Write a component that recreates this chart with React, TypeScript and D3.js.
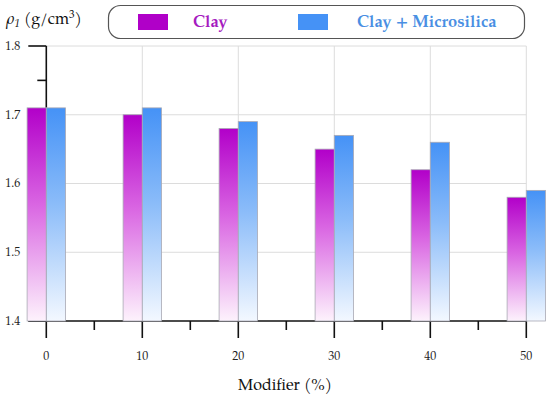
import React, { useEffect, useRef } from 'react';
import * as d3 from 'd3';

const modifiers = [0, 10, 20, 30, 40, 50];
const clayValues = [1.71, 1.70, 1.68, 1.65, 1.62, 1.58];
const microsilicaValues = [1.71, 1.71, 1.69, 1.67, 1.66, 1.59];
const yTicks = [1.4, 1.5, 1.6, 1.7, 1.8];
const seriesNames = ['Clay', 'Clay + Microsilica'];

const FONT = 'TeX Gyre Pagella, Liberation Serif, serif';

const App: React.FC = () => {
    const svgRef = useRef<SVGSVGElement>(null);

    useEffect(() => {
        if (!svgRef.current) return;
        const svg = d3.select(svgRef.current);
        svg.selectAll('*').remove();

        const x = d3.scaleLinear().domain([0, 50]).range([46.3, 526.3]);
        const y = d3.scaleLinear().domain([1.4, 1.8]).range([321, 46]);
        const barW = x(2) - x(0);

        const defs = svg.append('defs');
        const purple = defs.append('linearGradient')
            .attr('id', 'gradClay')
            .attr('x1', 0).attr('y1', 0).attr('x2', 0).attr('y2', 1);
        purple.append('stop').attr('offset', '0%').attr('stop-color', '#b200c9');
        purple.append('stop').attr('offset', '45%').attr('stop-color', '#d965e2');
        purple.append('stop').attr('offset', '100%').attr('stop-color', '#fdf2fc');
        const blue = defs.append('linearGradient')
            .attr('id', 'gradMicro')
            .attr('x1', 0).attr('y1', 0).attr('x2', 0).attr('y2', 1);
        blue.append('stop').attr('offset', '0%').attr('stop-color', '#4592f6');
        blue.append('stop').attr('offset', '45%').attr('stop-color', '#8bbcf9');
        blue.append('stop').attr('offset', '100%').attr('stop-color', '#f3f8ff');

        // grid
        svg.append('g')
            .selectAll('line')
            .data(yTicks.filter((t) => t > 1.4))
            .enter()
            .append('line')
            .attr('x1', x(0)).attr('x2', x(50))
            .attr('y1', (d: number) => y(d)).attr('y2', (d: number) => y(d))
            .style('stroke', '#dcdcdc').style('stroke-width', 1);
        svg.append('g')
            .selectAll('line')
            .data(modifiers.filter((m) => m > 0))
            .enter()
            .append('line')
            .attr('x1', (d: number) => x(d)).attr('x2', (d: number) => x(d))
            .attr('y1', y(1.8)).attr('y2', y(1.4))
            .style('stroke', '#dcdcdc').style('stroke-width', 1);

        // y axis
        const yAxis = svg.append('g').attr('transform', `translate(${x(0)},0)`);
        yAxis.append('line')
            .attr('x1', 0).attr('x2', 0).attr('y1', y(1.8)).attr('y2', y(1.4))
            .style('stroke', '#111').style('stroke-width', 1.6);
        yAxis.selectAll('.major')
            .data(yTicks)
            .enter()
            .append('line')
            .attr('x1', -18).attr('x2', 0)
            .attr('y1', (d: number) => y(d)).attr('y2', (d: number) => y(d))
            .style('stroke', '#111').style('stroke-width', 1.6);
        yAxis.selectAll('.minor')
            .data([1.45, 1.55, 1.65, 1.75])
            .enter()
            .append('line')
            .attr('x1', -9).attr('x2', 0)
            .attr('y1', (d: number) => y(d)).attr('y2', (d: number) => y(d))
            .style('stroke', '#111').style('stroke-width', 1.6);
        yAxis.selectAll('text')
            .data(yTicks)
            .enter()
            .append('text')
            .attr('x', -26)
            .attr('y', (d: number) => y(d))
            .attr('dy', '0.32em')
            .attr('text-anchor', 'end')
            .attr('font-family', FONT)
            .attr('font-size', 12)
            .attr('fill', '#222')
            .text((d: number) => d.toFixed(1));

        // x axis
        const xAxis = svg.append('g').attr('transform', `translate(0,${y(1.4)})`);
        xAxis.append('line')
            .attr('x1', x(0) - 18).attr('x2', x(50))
            .attr('y1', 0).attr('y2', 0)
            .style('stroke', '#111').style('stroke-width', 1.6);
        xAxis.selectAll('.major')
            .data(modifiers)
            .enter()
            .append('line')
            .attr('x1', (d: number) => x(d)).attr('x2', (d: number) => x(d))
            .attr('y1', 0).attr('y2', 17)
            .style('stroke', '#111').style('stroke-width', 1.6);
        xAxis.selectAll('.minor')
            .data([5, 15, 25, 35, 45])
            .enter()
            .append('line')
            .attr('x1', (d: number) => x(d)).attr('x2', (d: number) => x(d))
            .attr('y1', 0).attr('y2', 9)
            .style('stroke', '#111').style('stroke-width', 1.6);
        xAxis.selectAll('text')
            .data(modifiers)
            .enter()
            .append('text')
            .attr('x', (d: number) => x(d))
            .attr('y', 35)
            .attr('dy', '0.32em')
            .attr('text-anchor', 'middle')
            .attr('font-family', FONT)
            .attr('font-size', 12)
            .attr('fill', '#222')
            .text((d: number) => String(d));

        // bars
        const bars = svg.append('g');
        bars.selectAll('.clay')
            .data(modifiers)
            .enter()
            .append('rect')
            .attr('x', (d: number) => x(d) - barW)
            .attr('y', (_d: number, i: number) => y(clayValues[i]))
            .attr('width', barW)
            .attr('height', (_d: number, i: number) => y(1.4) - y(clayValues[i]))
            .attr('fill', 'url(#gradClay)')
            .style('stroke', '#a9a9b4')
            .style('stroke-width', 0.8);
        bars.selectAll('.micro')
            .data(modifiers)
            .enter()
            .append('rect')
            .attr('x', (d: number) => x(d))
            .attr('y', (_d: number, i: number) => y(microsilicaValues[i]))
            .attr('width', barW)
            .attr('height', (_d: number, i: number) => y(1.4) - y(microsilicaValues[i]))
            .attr('fill', 'url(#gradMicro)')
            .style('stroke', '#a9a9b4')
            .style('stroke-width', 0.8);

        // axis titles
        svg.append('text')
            .attr('x', 285)
            .attr('y', 390)
            .attr('text-anchor', 'middle')
            .attr('font-family', FONT)
            .attr('font-size', 16)
            .attr('fill', '#111')
            .text('Modifier (%)');

        const yTitle = svg.append('text')
            .attr('x', 6)
            .attr('y', 24)
            .attr('font-family', FONT)
            .attr('font-size', 16)
            .attr('fill', '#111');
        yTitle.append('tspan').attr('font-style', 'italic').text('ρ');
        yTitle.append('tspan').attr('font-style', 'italic').attr('font-size', 11).attr('dy', 3).text('1');
        yTitle.append('tspan').attr('dy', -3).text(' (g/cm');
        yTitle.append('tspan').attr('font-size', 11).attr('dy', -6).text('3');
        yTitle.append('tspan').attr('dy', 6).text(')');

        // legend
        const legend = svg.append('g');
        legend.append('rect')
            .attr('x', 108.5).attr('y', 5.5)
            .attr('width', 416).attr('height', 33)
            .attr('rx', 12).attr('ry', 12)
            .style('fill', 'none')
            .style('stroke', '#555')
            .style('stroke-width', 1.2);
        const legendItems = [
            { name: seriesNames[0], swatchX: 138, textX: 193, fill: '#b000c8', color: '#a61cc0' },
            { name: seriesNames[1], swatchX: 298, textX: 357, fill: '#4592f6', color: '#4a8fe3' },
        ];
        legendItems.forEach((item) => {
            legend.append('rect')
                .attr('x', item.swatchX).attr('y', 14)
                .attr('width', 30).attr('height', 16)
                .attr('fill', item.fill);
            legend.append('text')
                .attr('x', item.textX)
                .attr('y', 22)
                .attr('dy', '0.32em')
                .attr('font-family', FONT)
                .attr('font-size', 16.5)
                .attr('font-weight', 700)
                .attr('fill', item.color)
                .text(item.name);
        });
    }, []);

    return (
        <svg
            ref={svgRef}
            width={550}
            height={404}
            style={{ position: 'absolute', left: 0, top: 0, background: '#fff' }}
        />
    );
};

export default App;
